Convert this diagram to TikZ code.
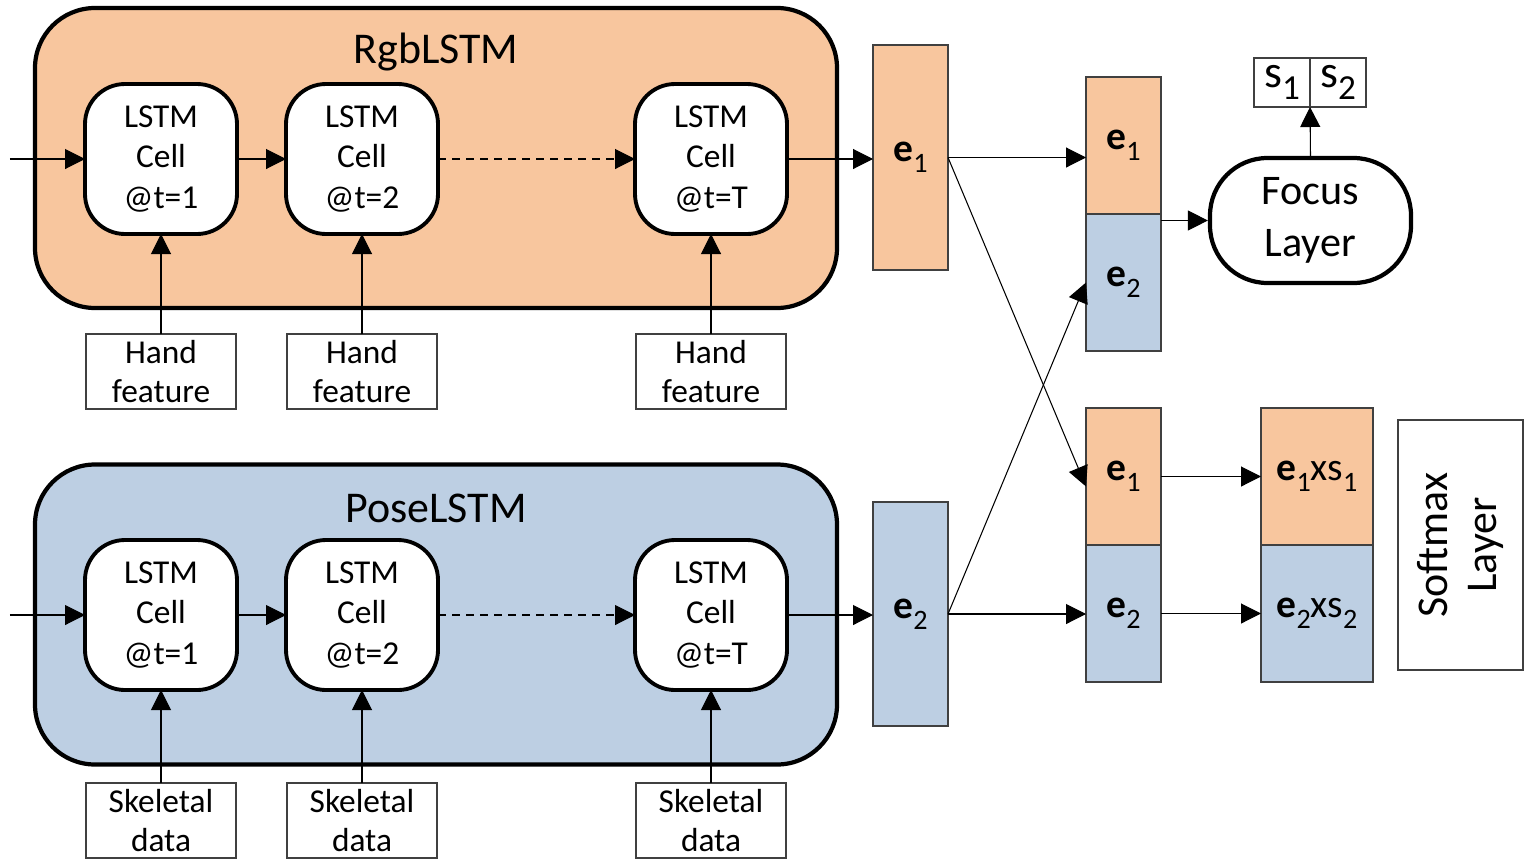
\documentclass[tikz,border=0pt]{standalone}
\usepackage{fontspec}
\setmainfont{Carlito}
\usepackage{xcolor}
\definecolor{rgborange}{RGB}{248, 198, 158}
\definecolor{poseblue}{RGB}{189, 207, 227}
\definecolor{boxgray}{RGB}{64, 64, 64}
\usetikzlibrary{arrows.meta, positioning, calc}
\newcommand{\cellfont}{\fontsize{19}{22.8}\selectfont}
\newcommand{\lowidx}[2]{\raisebox{-0.28em}{\fontsize{#1}{#1}\selectfont #2}}

\begin{document}
\begin{tikzpicture}[
    container/.style={rectangle, draw=black, line width=2.4pt, rounded corners=1.2cm, minimum width=16.04cm, minimum height=6cm},
    title/.style={font=\fontsize{25}{30}\selectfont},
    lstmcell/.style={rectangle, draw=black, fill=white, line width=2.2pt, rounded corners=0.8cm, minimum width=3.04cm, minimum height=3cm, outer sep=0pt, align=center, font=\cellfont},
    inbox/.style={rectangle, draw=boxgray, fill=white, line width=0.8pt, minimum width=3cm, minimum height=1.5cm, outer sep=0pt, align=center, inner sep=0pt, font=\fontsize{19}{22.3}\selectfont},
    block/.style={rectangle, draw=boxgray, line width=0.8pt, minimum width=1.5cm, outer sep=0pt, font=\fontsize{22.5}{24}\selectfont},
    arrow/.style={-{Triangle[length=0.4cm, width=0.4cm]}, line width=0.6pt, black}
]
    \useasboundingbox (0,0) rectangle (30.66,-17.26);

    % RgbLSTM branch
    \node[container, fill=rgborange] (rgb) at (8.72,-3.16) {};
    \node[title] (rgbtitle) at (8.72,-1.05) {RgbLSTM};
    \node[lstmcell] (c11) at (3.22,-3.18) {LSTM\\Cell\\@t=1};
    \node[lstmcell, right=0.98cm of c11] (c12) {LSTM\\Cell\\@t=2};
    \node[lstmcell, right=3.94cm of c12] (c1T) {LSTM\\Cell\\@t=T};
    \node[inbox, below=2cm of c11] (h1) {Hand\\feature};
    \node[inbox, below=2cm of c12] (h2) {Hand\\feature};
    \node[inbox, below=2cm of c1T] (hT) {Hand\\feature};
    \coordinate (in1) at (0.2,-3.18);

    % PoseLSTM branch
    \node[container, fill=poseblue] (pose) at (8.72,-12.29) {};
    \node[title] (posetitle) at (8.72,-10.17) {PoseLSTM};
    \node[lstmcell] (c21) at (3.22,-12.3) {LSTM\\Cell\\@t=1};
    \node[lstmcell, right=0.98cm of c21] (c22) {LSTM\\Cell\\@t=2};
    \node[lstmcell, right=3.94cm of c22] (c2T) {LSTM\\Cell\\@t=T};
    \node[inbox, below=1.86cm of c21] (k1) {Skeletal\\data};
    \node[inbox, below=1.86cm of c22] (k2) {Skeletal\\data};
    \node[inbox, below=1.86cm of c2T] (kT) {Skeletal\\data};
    \coordinate (in2) at (0.2,-12.3);

    % Embeddings
    \node[block, fill=rgborange, minimum height=4.5cm] (e1) at (18.21,-3.15) {\textbf{e}\lowidx{16}{1}};
    \node[block, fill=poseblue, minimum height=4.48cm] (e2) at (18.21,-12.28) {\textbf{e}\lowidx{16}{2}};

    % Concatenations
    \node[block, fill=rgborange, minimum height=2.74cm] (te1) at (22.47,-2.91) {\textbf{e}\lowidx{16}{1}};
    \node[block, fill=poseblue, minimum height=2.74cm, below=0pt of te1] (te2) {\textbf{e}\lowidx{16}{2}};
    \node[block, fill=rgborange, minimum height=2.74cm] (be1) at (22.47,-9.53) {\textbf{e}\lowidx{16}{1}};
    \node[block, fill=poseblue, minimum height=2.74cm, below=0pt of be1] (be2) {\textbf{e}\lowidx{16}{2}};

    % Weighted embeddings
    \node[block, fill=rgborange, minimum width=2.24cm, minimum height=2.74cm, inner sep=0pt] (p1) at (26.34,-9.53) {\textbf{e}\lowidx{16}{1}xs\lowidx{16}{1}};
    \node[block, fill=poseblue, minimum width=2.24cm, minimum height=2.74cm, inner sep=0pt, below=0pt of p1] (p2) {\textbf{e}\lowidx{16}{2}xs\lowidx{16}{2}};
    \node[block, fill=white, minimum width=5cm, minimum height=2.5cm, align=center, rotate=90, font=\fontsize{25}{27.5}\selectfont] (soft) at (29.21,-10.9) {Softmax\\Layer};

    % Focus layer and scores
    \node[rectangle, draw=black, fill=white, line width=2.4pt, rounded corners=1.15cm, minimum width=4.02cm, minimum height=2.5cm, align=center, font=\fontsize{24}{29.6}\selectfont] (focus) at (26.21,-4.41) {Focus\\Layer};
    \node[block, fill=white, minimum width=1.12cm, minimum height=0.98cm, inner sep=0pt, font=\fontsize{26}{27}\selectfont] (s1) at (25.64,-1.65) {s\lowidx{20}{1}};
    \node[block, fill=white, minimum width=1.12cm, minimum height=0.98cm, inner sep=0pt, font=\fontsize{26}{27}\selectfont, right=0pt of s1] (s2) {s\lowidx{20}{2}};

    % Arrows inside the branches
    \draw[arrow] (in1) -- (c11.west);
    \draw[arrow] (c11) -- (c12);
    \draw[arrow, dashed, dash pattern=on 0.16cm off 0.12cm] (c12) -- (c1T);
    \draw[arrow] (in2) -- (c21.west);
    \draw[arrow] (c21) -- (c22);
    \draw[arrow, dashed, dash pattern=on 0.16cm off 0.12cm] (c22) -- (c2T);
    \foreach \a/\b in {h1/c11, h2/c12, hT/c1T, k1/c21, k2/c22, kT/c2T}
        \draw[arrow] (\a.north) -- (\b.south);

    % Arrows to the right
    \draw[arrow] (c1T.east) -- (c1T.east -| e1.west);
    \draw[arrow] (c2T.east) -- (c2T.east -| e2.west);
    \draw[arrow] (e1.east) -- (e1.east -| te1.west);
    \draw[arrow] (e1.east) -- ($(be1.west)+(0,-0.2)$);
    \draw[arrow] (e2.east) -- (te2.west);
    \draw[arrow] (e2.east) -- (e2.east -| be2.west);
    \draw[arrow] (be1.east) -- (p1.west);
    \draw[arrow] (be2.east) -- (p2.west);
    \draw[arrow] (focus.west -| te1.east) -- (focus.west);
    \draw[arrow] (focus.north) -- (s1.south east);
\end{tikzpicture}
\end{document}
